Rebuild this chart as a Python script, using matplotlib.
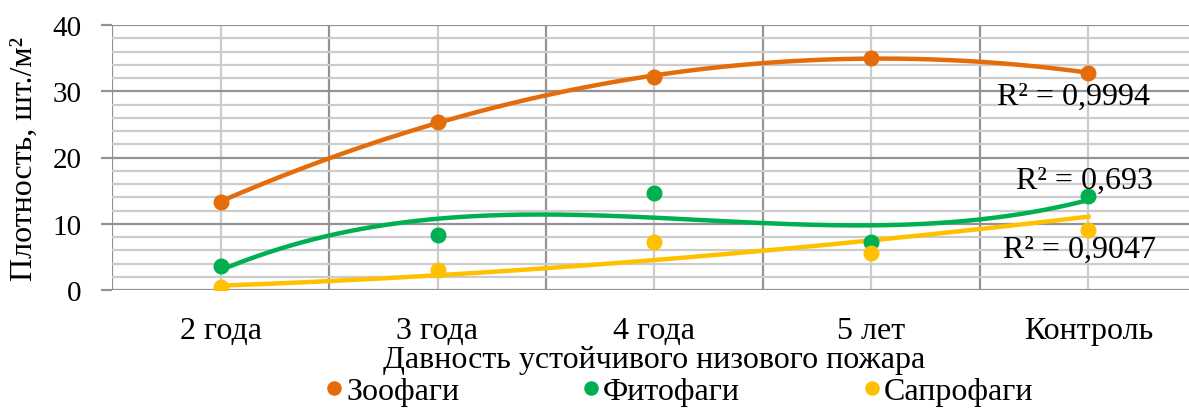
import numpy as np
import matplotlib
matplotlib.use("Agg")
import matplotlib.pyplot as plt
from matplotlib.ticker import MultipleLocator, FixedLocator

plt.rcParams['font.family'] = ['Liberation Serif', 'DejaVu Serif']

categories = ["2 года", "3 года", "4 года", "5 лет", "Контроль"]
zoophages = [13.3, 25.4, 32.2, 35.0, 32.8]
phytophages = [3.6, 8.3, 14.6, 7.3, 14.2]
saprophages = [0.5, 3.0, 7.2, 5.6, 9.1]
r2_labels = ["R² = 0,9994", "R² = 0,693", "R² = 0,9047"]

c_zoo = "#E46C0A"
c_phy = "#00B050"
c_sap = "#FFC000"

x = np.arange(1, len(categories) + 1)
xs = np.linspace(1, len(categories), 300)

fig = plt.figure(figsize=(11.89, 4.10), dpi=100)
ax = fig.add_axes([112 / 1189, 1 - 291 / 410, 1085 / 1189, 265 / 410])

# gridlines
ax.set_xlim(0.5, 5.5)
ax.set_ylim(0, 40)
ax.xaxis.set_major_locator(FixedLocator(x))
ax.xaxis.set_minor_locator(FixedLocator(np.arange(0.5, 6.0, 1.0)))
ax.yaxis.set_major_locator(MultipleLocator(10))
ax.yaxis.set_minor_locator(MultipleLocator(2))
ax.grid(which="major", axis="y", color="#939393", lw=1.6, zorder=0)
ax.grid(which="minor", axis="y", color="#cccccc", lw=1.6, zorder=0)
ax.grid(which="minor", axis="x", color="#939393", lw=1.6, zorder=0)
ax.grid(which="major", axis="x", color="#cccccc", lw=1.6, zorder=0)
ax.set_axisbelow(True)
for s in ax.spines.values():
    s.set_visible(False)

ax.set_xticks(x)
ax.set_xticklabels(categories, fontsize=23)
ax.tick_params(axis="x", which="both", length=0, pad=19)
ax.tick_params(axis="y", which="major", length=8, width=1.6, color="#939393",
               labelsize=21, pad=14)
ax.tick_params(axis="y", which="minor", length=0)

ax.set_xlabel("Давность устойчивого низового пожара", fontsize=23, labelpad=0)
ax.set_ylabel("Плотность, шт./м²", fontsize=23, labelpad=10)

# trend lines
p_zoo = np.polyfit(x, zoophages, 2)
ax.plot(xs, np.polyval(p_zoo, xs), color=c_zoo, lw=3.2, zorder=3)
p_phy = np.polyfit(x, phytophages, 3)
ax.plot(xs, np.polyval(p_phy, xs), color=c_phy, lw=3.2, zorder=3)
b, lna = np.polyfit(np.log(x), np.log(saprophages), 1)
ax.plot(xs, np.exp(lna) * xs ** b, color=c_sap, lw=3.2, zorder=3)

# points
ax.plot(x, zoophages, "o", color=c_zoo, ms=10.5, zorder=4, label="Зоофаги")
ax.plot(x, phytophages, "o", color=c_phy, ms=10.5, zorder=4, label="Фитофаги")
ax.plot(x, saprophages, "o", color=c_sap, ms=10.5, zorder=5, label="Сапрофаги")

ax.text(4.93, 29.3, r2_labels[0], fontsize=23, ha="center", va="center", zorder=6)
ax.text(4.98, 16.6, r2_labels[1], fontsize=23, ha="center", va="center", zorder=6)
ax.text(4.96, 6.2, r2_labels[2], fontsize=23, ha="center", va="center", zorder=6)

fig.legend(loc="center", bbox_to_anchor=(0.572, 1 - 392 / 410), ncol=3,
           frameon=False, fontsize=23, handlelength=0.45, handletextpad=0.15,
           columnspacing=3.9, borderpad=0, markerscale=0.9)

fig.savefig("out.png", dpi=100)
